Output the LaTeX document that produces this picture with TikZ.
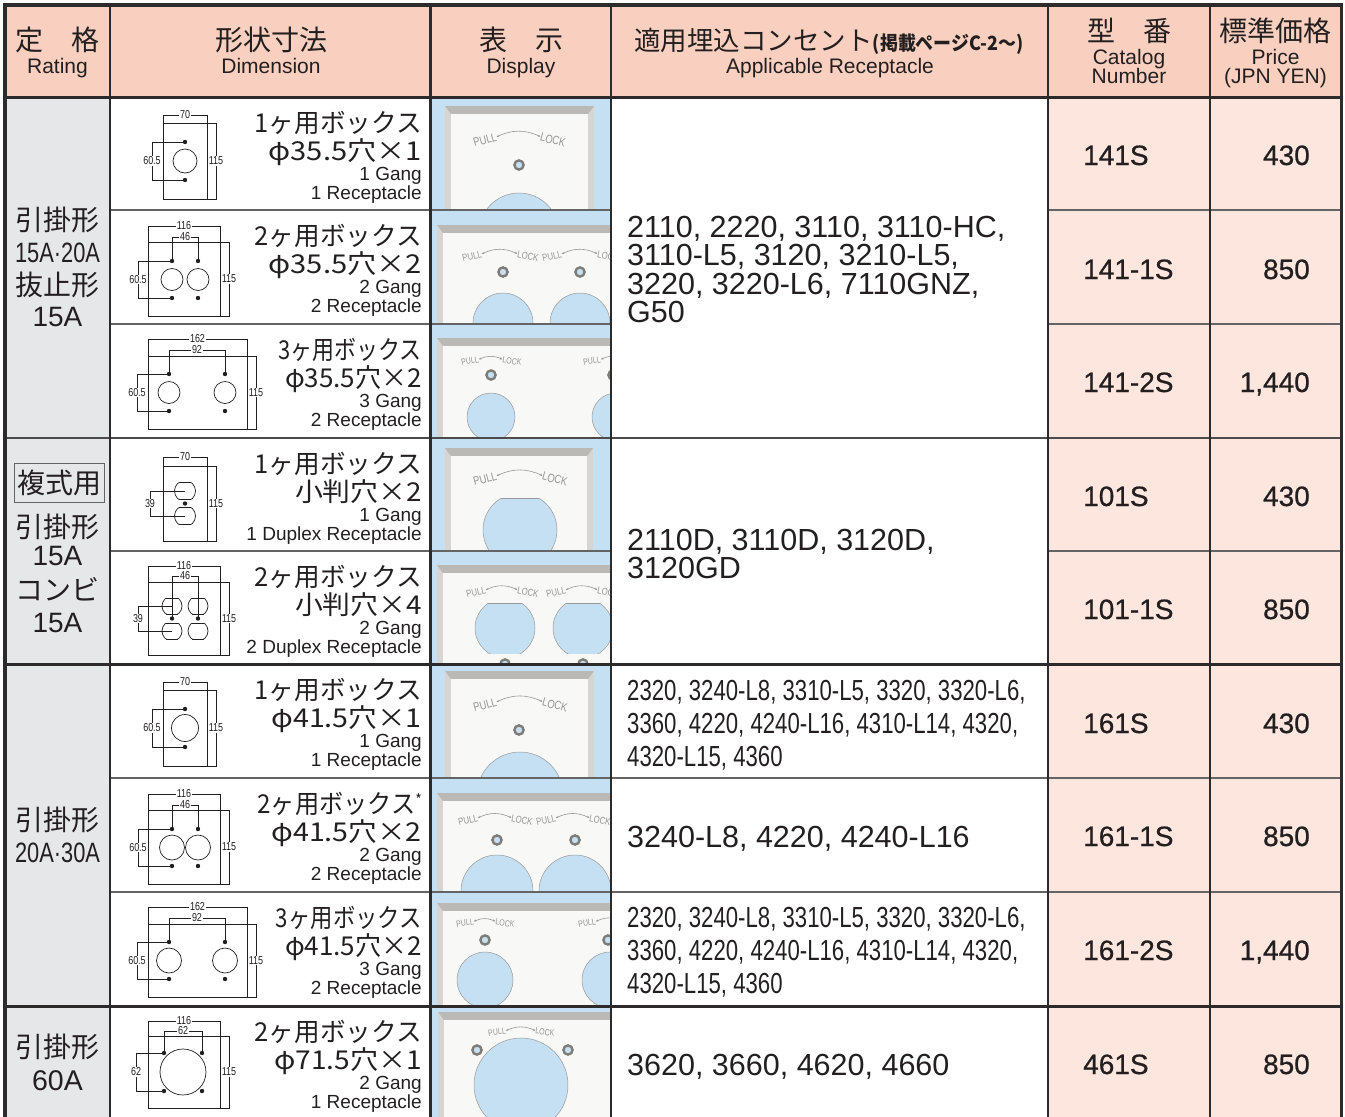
\documentclass[tikz,border=0pt]{standalone}
\usepackage{fontspec}
\usetikzlibrary{arrows.meta}
\setmainfont{Liberation Sans}
\newfontfamily\jp{Noto Sans CJK JP}
\newfontfamily\cond[FakeStretch=0.78]{Liberation Sans}
\newfontfamily\condr[FakeStretch=0.765]{Liberation Sans}
\newfontfamily\catf[FakeBold=0.7]{Liberation Sans}
\newcommand\fs[1]{\fontsize{#1}{#1}\selectfont}
\definecolor{hdrfill}{RGB}{249,208,191}
\definecolor{ratefill}{RGB}{230,231,233}
\definecolor{pinkfill}{RGB}{253,230,222}
\definecolor{dispblue}{RGB}{197,223,243}
\definecolor{gridc}{RGB}{45,42,43}
\definecolor{gridl}{RGB}{100,100,100}
\definecolor{bevelc}{RGB}{214,213,211}
\definecolor{beveltop}{RGB}{186,185,182}
\definecolor{facec}{RGB}{248,248,246}
\definecolor{engrc}{RGB}{150,150,150}
\definecolor{ink}{RGB}{35,31,32}
\definecolor{ringc}{RGB}{128,124,120}
\tikzset{
  txt/.style={inner sep=0pt, text=ink},
  hj/.style={txt, font=\jp\fs{28}, anchor=base},
  he/.style={txt, font=\fs{21}, anchor=base},
  jpbig/.style={txt, font=\jp\fs{26}, anchor=base east},
  ensm/.style={txt, font=\fs{19}, anchor=base east},
  rate/.style={txt, anchor=base},
  rec/.style={txt, font=\fs{30.5}, anchor=base west},
  recc/.style={txt, font=\condr\fs{29}, anchor=base west},
  cat/.style={txt, font=\catf\fs{28}, anchor=base west},
  price/.style={txt, font=\catf\fs{28}, anchor=base east},
  dimln/.style={line width=0.7pt, draw=ink},
  dimlab/.style={font=\cond\fs{11.5}, text=ink, fill=white, inner sep=0.8pt},
  engr/.style={inner sep=0pt, text=engrc},
  engrl/.style={draw=engrc, line width=0.6pt, {Stealth[length=2.5pt,width=2.2pt]}-{Stealth[length=2.5pt,width=2.2pt]}},
  engrs/.style={draw=engrc, line width=0.6pt, {Stealth[length=2.5pt,width=2.2pt]}-},
  hole/.style={fill=dispblue, draw=gray!80, line width=0.5pt},
  ring/.style={fill=dispblue, draw=ringc, line width=2.4pt},
  gthin/.style={draw=gridl, line width=1.4pt},
  gmid/.style={draw=gridc!85, line width=1.7pt},
  gthick/.style={draw=gridc, line width=3pt}
}
% dimension drawing helpers
\newcommand\platedim[8]{%
  \draw[dimln] (#2,#1+#5) -- (#3,#1+#5);
  \draw[dimln] (#2,#1+#5) -- (#2,#1+#7);
  \draw[dimln] (#3,#1+#5) -- (#3,#1+#7);
  \draw[dimln] (#2,#1+#6) -- (#3+9,#1+#6) -- (#3+9,#1+#7) -- (#2,#1+#7);
  \node[dimlab] (#8w) at ({(#2+#3)/2},#1+#5) {#4};
  \node[dimlab] (#8h) at (#3+9,{#1+(#6+#7)/2}) {115};
}
\newcommand\innerdim[7]{%
  \draw[dimln] (#2,#1+#5) -- (#2,#1+#4) -- (#3,#1+#4) -- (#3,#1+#5);
  \node[dimlab] (#7i) at ({(#2+#3)/2},#1+#4) {#6};
}
\newcommand\leftdim[7]{%
  \draw[dimln] (#3,#1+#4) -- (#2,#1+#4) -- (#2,#1+#5) -- (#3,#1+#5);
  \node[dimlab] (#7v) at (#2,{#1+(#4+#5)/2}) {#6};
}
\newcommand\scr[2]{\fill[ink] (#1,#2) circle (2.2);}
\newcommand\duplexd[4]{%
  \begin{scope}
    \clip (#1-#3-1,#2-#4) rectangle (#1+#3+1,#2+#4);
    \draw[dimln] (#1,#2) circle (#3);
  \end{scope}
  \draw[dimln] ({#1-sqrt(#3*#3-#4*#4)},#2-#4) -- ({#1+sqrt(#3*#3-#4*#4)},#2-#4);
  \draw[dimln] ({#1-sqrt(#3*#3-#4*#4)},#2+#4) -- ({#1+sqrt(#3*#3-#4*#4)},#2+#4);
}
\newcommand\dimone[3]{%
  \platedim{#1}{163}{207}{70}{18}{26}{102}{#2}%
  \leftdim{#1}{152}{185}{45}{83}{60.5}{#2}%
  \scr{185}{#1+45}\scr{185}{#1+83}%
  \draw[dimln] (185,#1+64) circle (#3);
}
\newcommand\dimtwo[3]{%
  \platedim{#1}{148}{220}{116}{16}{32}{106}{#2}%
  \innerdim{#1}{172}{198}{27}{51}{46}{#2}%
  \leftdim{#1}{138}{172}{51}{88}{60.5}{#2}%
  \scr{172}{#1+51}\scr{198}{#1+51}\scr{172}{#1+88}\scr{198}{#1+88}%
  \draw[dimln] (172,#1+69.5) circle (#3);
  \draw[dimln] (198,#1+69.5) circle (#3);
}
\newcommand\dimthree[3]{%
  \platedim{#1}{148}{247}{162}{15}{32}{105}{#2}%
  \innerdim{#1}{169}{225}{26}{50}{92}{#2}%
  \leftdim{#1}{137}{169}{50}{87}{60.5}{#2}%
  \scr{169}{#1+50}\scr{225}{#1+50}\scr{169}{#1+87}\scr{225}{#1+87}%
  \draw[dimln] (169,#1+68.5) circle (#3);
  \draw[dimln] (225,#1+68.5) circle (#3);
}
% t, name, scale1, line1, scale2, line2, line3, line4
\newcommand\dtext[8]{%
  \node[jpbig] (#2a) at (422,#1+35) {\scalebox{#3}[1]{#4}};
  \node[jpbig] (#2b) at (422,#1+63.5) {\scalebox{#5}[1]{#6}};
  \node[ensm] (#2c) at (422,#1+83.5) {#7};
  \node[ensm] (#2d) at (422,#1+102.5) {#8};
}
% display helpers
\newcommand\plate[4]{%
  \fill[bevelc] (#1,#2) rectangle (#3,#4);
  \fill[beveltop] (#1,#2) -- (#3,#2) -- (#3-6,#2+8) -- (#1+6,#2+8) -- cycle;
  \fill[facec] (#1+6,#2+8) rectangle (#3-6,#4);
}
\newcommand\sring[2]{\filldraw[ring] (#1,#2) circle (4.6);}
\newcommand\bhole[3]{\filldraw[hole] (#1,#2) circle (#3);}
\newcommand\dhole[4]{%
  \begin{scope}
    \clip (#1-#3-1,#2-#4) rectangle (#1+#3+1,#2+#4);
    \filldraw[hole] (#1,#2) circle (#3);
  \end{scope}
  \draw[gray!80, line width=0.5pt] ({#1-sqrt(#3*#3-#4*#4)},#2-#4) -- ({#1+sqrt(#3*#3-#4*#4)},#2-#4);
}
\newcommand\pl[6]{%
  \node[engr, font=\cond\fs{#4}, rotate=#5] (#6p) at (#1-#3,#2) {PULL};
  \node[engr, font=\cond\fs{#4}, rotate=-#5] (#6l) at (#1+#3,#2) {LOCK};
  \draw[engrl] (#6p.east) to[bend left=25] (#6l.west);
}
% only PULL visible at the right edge of a cell
\newcommand\plpull[5]{%
  \node[engr, font=\cond\fs{#3}, rotate=#4] (#5p) at (#1,#2) {PULL};
  \coordinate (#5e) at (#1+28,#2-5);
  \draw[engrs] (#5p.east) to[bend left=15] (#5e);
}
\begin{document}
\begin{tikzpicture}[x=1pt,y=-1pt]
\useasboundingbox (0,0) rectangle (1345,1117);
\fill[white] (0,0) rectangle (1345,1117);
\fill[hdrfill] (5,5) rectangle (1341,97);
\fill[ratefill] (5,97) rectangle (110,1117);
\fill[pinkfill] (1048,97) rectangle (1341,1117);

% ---------- display column ----------
\begin{scope}
  \clip (430,97) rectangle (611,210);
  \fill[dispblue] (430,97) rectangle (611,210);
  \plate{445}{106}{594}{240}
  \sring{519}{165}
  \bhole{519}{233}{40}
  \pl{519}{140}{34}{12}{15}{p1}
\end{scope}
\begin{scope}
  \clip (430,210) rectangle (611,324);
  \fill[dispblue] (430,210) rectangle (611,324);
  \plate{437}{225}{700}{340}
  \sring{503}{272}\sring{580}{272}
  \bhole{503}{323}{30}\bhole{580}{323}{30}
  \pl{500}{256}{28}{10}{12}{p2a}
  \pl{580}{256}{28}{10}{12}{p2b}
\end{scope}
\begin{scope}
  \clip (430,324) rectangle (611,438);
  \fill[dispblue] (430,324) rectangle (611,438);
  \plate{437}{338}{700}{450}
  \sring{491}{375}\sring{613}{375}
  \bhole{491}{417}{24}\bhole{616}{417}{24}
  \pl{491}{361}{21}{9}{10}{p3a}
  \plpull{592}{361}{9}{10}{p3b}
\end{scope}
\begin{scope}
  \clip (430,438) rectangle (611,551);
  \fill[dispblue] (430,438) rectangle (611,551);
  \plate{445}{448}{593}{560}
  \dhole{520}{530}{37}{32}
  \pl{520}{479}{35}{12}{15}{p4}
\end{scope}
\begin{scope}
  \clip (430,551) rectangle (611,664);
  \fill[dispblue] (430,551) rectangle (611,664);
  \plate{437}{565}{700}{680}
  \dhole{505}{628}{30}{25}\dhole{583}{628}{30}{25}
  \sring{505}{664}\sring{583}{664}
  \pl{502}{592}{26}{10}{12}{p5a}
  \pl{582}{592}{26}{10}{12}{p5b}
\end{scope}
\begin{scope}
  \clip (430,664) rectangle (611,778);
  \fill[dispblue] (430,664) rectangle (611,778);
  \plate{445}{671}{594}{790}
  \sring{519}{730}
  \bhole{520}{795}{43}
  \pl{520}{705}{35}{12}{15}{p6}
\end{scope}
\begin{scope}
  \clip (430,778) rectangle (611,892);
  \fill[dispblue] (430,778) rectangle (611,892);
  \plate{437}{793}{700}{900}
  \sring{497}{840}\sring{575}{840}
  \bhole{497}{891}{36}\bhole{575}{891}{36}
  \pl{495}{820}{27}{10}{12}{p7a}
  \pl{573}{820}{27}{10}{12}{p7b}
\end{scope}
\begin{scope}
  \clip (430,892) rectangle (611,1006);
  \fill[dispblue] (430,892) rectangle (611,1006);
  \plate{437}{903}{700}{1010}
  \sring{485}{940}\sring{608}{940}
  \bhole{485}{980}{28}\bhole{610}{980}{28}
  \pl{485}{923}{20}{9}{10}{p8a}
  \plpull{587}{923}{9}{10}{p8b}
\end{scope}
\begin{scope}
  \clip (430,1006) rectangle (611,1117);
  \fill[dispblue] (430,1006) rectangle (611,1117);
  \plate{438}{1012}{700}{1120}
  \sring{477}{1050}\sring{568}{1050}
  \bhole{521}{1085}{47}
  \pl{521}{1032}{24}{9}{8}{p9}
\end{scope}

% ---------- dimension drawings ----------
\dimone{97}{r1}{12}
\dimtwo{210}{r2}{11}
\dimthree{324}{r3}{11}
% row 4 duplex 1 gang
\platedim{438}{163}{207}{70}{19}{28}{103}{r4}
\leftdim{438}{150}{185}{53}{78}{39}{r4}
\duplexd{185}{491}{10.5}{8.5}
\duplexd{185}{516}{10.5}{8.5}
\scr{185}{503.5}
% row 5 duplex 2 gang
\platedim{551}{148}{220}{116}{15}{31}{104}{r5}
\duplexd{172}{606}{10}{8}\duplexd{198}{606}{10}{8}
\duplexd{172}{631}{10}{8}\duplexd{198}{631}{10}{8}
\innerdim{551}{172}{198}{25}{67.5}{46}{r5}
\leftdim{551}{138}{172}{55}{80}{39}{r5}
\scr{172}{618.5}\scr{198}{618.5}
\dimone{664}{r6}{13.5}
\dimtwo{778}{r7}{12.5}
\dimthree{892}{r8}{12.5}
% row 9
\platedim{1006}{148}{220}{116}{15}{30}{102}{r9}
\innerdim{1006}{164}{202}{25}{47}{62}{r9}
\leftdim{1006}{136}{164}{47}{85}{62}{r9}
\scr{164}{1053}\scr{202}{1053}\scr{164}{1091}\scr{202}{1091}
\draw[dimln] (183,1072) circle (23);

% ---------- dimension texts ----------
\dtext{97}{t1}{0.985}{1ヶ用ボックス}{1.12}{φ35.5穴×1}{1 Gang}{1 Receptacle}
\dtext{210}{t2}{0.985}{2ヶ用ボックス}{1.12}{φ35.5穴×2}{2 Gang}{2 Receptacle}
\dtext{324}{t3}{0.845}{3ヶ用ボックス}{1.0}{φ35.5穴×2}{3 Gang}{2 Receptacle}
\dtext{438}{t4}{0.985}{1ヶ用ボックス}{1.07}{小判穴×2}{1 Gang}{1 Duplex Receptacle}
\dtext{551}{t5}{0.985}{2ヶ用ボックス}{1.07}{小判穴×4}{2 Gang}{2 Duplex Receptacle}
\dtext{664}{t6}{0.985}{1ヶ用ボックス}{1.1}{φ41.5穴×1}{1 Gang}{1 Receptacle}
\dtext{778}{t7}{0.93}{2ヶ用ボックス\raisebox{8pt}{\fs{15}*}}{1.1}{φ41.5穴×2}{2 Gang}{2 Receptacle}
\dtext{892}{t8}{0.86}{3ヶ用ボックス}{1.0}{φ41.5穴×2}{3 Gang}{2 Receptacle}
\dtext{1006}{t9}{0.985}{2ヶ用ボックス}{1.08}{φ71.5穴×1}{2 Gang}{1 Receptacle}

% ---------- rating column ----------
\node[rate, font=\jp\fs{28}] (g1a) at (57.5,230.6) {引掛形};
\node[rate, font=\cond\fs{28}] (g1b) at (57.5,262) {15A·20A};
\node[rate, font=\jp\fs{28}] (g1c) at (57.5,295.6) {抜止形};
\node[rate, font=\fs{28}] (g1d) at (57.5,326) {15A};
\node[font=\jp\fs{28}, text=ink, draw=gridl, line width=0.9pt, minimum width=90pt, minimum height=39pt, inner sep=0pt] (g2a) at (59,482.5) {複式用};
\node[rate, font=\jp\fs{28}] (g2b) at (57.5,537.6) {引掛形};
\node[rate, font=\fs{28}] (g2c) at (57.5,565) {15A};
\node[rate, font=\jp\fs{28}] (g2d) at (57.5,600.6) {コンビ};
\node[rate, font=\fs{28}] (g2e) at (57.5,632) {15A};
\node[rate, font=\jp\fs{28}] (g3a) at (57.5,830.6) {引掛形};
\node[rate, font=\cond\fs{28}] (g3b) at (57.5,862) {20A·30A};
\node[rate, font=\jp\fs{28}] (g4a) at (57.5,1057.6) {引掛形};
\node[rate, font=\fs{28.5}] (g4b) at (57.5,1090) {60A};

% ---------- header ----------
\node[hj] (h1) at (57.5,50.6) {定　格};
\node[he] (h1e) at (57.5,73.5) {Rating};
\node[hj] (h2) at (271,50.6) {形状寸法};
\node[he] (h2e) at (271,73.5) {Dimension};
\node[hj] (h3) at (521,50.6) {表　示};
\node[he] (h3e) at (521,73.5) {Display};
\node[txt, anchor=base] (h4) at (829,50.6) {\jp\fs{26.5}適用埋込コンセント{\fs{19.5}\bfseries\scalebox{0.92}[1]{(掲載ページC-2〜)}}};
\node[he] (h4e) at (830,73.5) {Applicable Receptacle};
\node[hj] (h5) at (1129,41.6) {型　番};
\node[he] (h5e) at (1129,64.5) {Catalog};
\node[he] (h5f) at (1129,83.5) {Number};
\node[hj] (h6) at (1275.5,41.6) {標準価格};
\node[he] (h6e) at (1275.5,64.5) {Price};
\node[he] (h6f) at (1275.5,83.5) {(JPN YEN)};

% ---------- applicable receptacle ----------
\node[rec] (ra1) at (627,237) {2110, 2220, 3110, 3110-HC,};
\node[rec] (ra2) at (627,265.5) {3110-L5, 3120, 3210-L5,};
\node[rec] (ra3) at (627,294) {3220, 3220-L6, 7110GNZ,};
\node[rec] (ra4) at (627,322.5) {G50};
\node[rec] (rb1) at (627,550) {2110D, 3110D, 3120D,};
\node[rec] (rb2) at (627,578) {3120GD};
\node[recc] (rc1) at (627,700.5) {2320, 3240-L8, 3310-L5, 3320, 3320-L6,};
\node[recc] (rc2) at (627,733.5) {3360, 4220, 4240-L16, 4310-L14, 4320,};
\node[recc] (rc3) at (627,766.5) {4320-L15, 4360};
\node[rec] (rd1) at (627,847) {3240-L8, 4220, 4240-L16};
\node[recc] (re1) at (627,927.5) {2320, 3240-L8, 3310-L5, 3320, 3320-L6,};
\node[recc] (re2) at (627,960.5) {3360, 4220, 4240-L16, 4310-L14, 4320,};
\node[recc] (re3) at (627,993.5) {4320-L15, 4360};
\node[rec] (rf1) at (627,1075) {3620, 3660, 4620, 4660};

% ---------- catalog and price ----------
\node[cat] (c1) at (1083,165) {141S};
\node[cat] (c2) at (1083,279) {141-1S};
\node[cat] (c3) at (1083,392) {141-2S};
\node[cat] (c4) at (1083,506) {101S};
\node[cat] (c5) at (1083,619) {101-1S};
\node[cat] (c6) at (1083,733) {161S};
\node[cat] (c7) at (1083,846) {161-1S};
\node[cat] (c8) at (1083,960) {161-2S};
\node[cat] (c9) at (1083,1074) {461S};
\node[price] (q1) at (1310,165) {430};
\node[price] (q2) at (1310,279) {850};
\node[price] (q3) at (1310,392) {1,440};
\node[price] (q4) at (1310,506) {430};
\node[price] (q5) at (1310,619) {850};
\node[price] (q6) at (1310,733) {430};
\node[price] (q7) at (1310,846) {850};
\node[price] (q8) at (1310,960) {1,440};
\node[price] (q9) at (1310,1074) {850};

% ---------- grid ----------
\foreach \yy in {210,324,551} {
  \draw[gthin] (110,\yy) -- (611,\yy);
  \draw[gthin] (1048,\yy) -- (1341,\yy);
}
\foreach \yy in {778,892} { \draw[gthin] (110,\yy) -- (1341,\yy); }
\draw[gmid] (5,438) -- (1341,438);
\draw[gthick] (5,664) -- (1341,664);
\draw[gthick] (5,1006) -- (1341,1006);
\draw[draw=gridc, line width=2.2pt] (110,5) -- (110,1117);
\draw[draw=gridc, line width=3pt] (430,5) -- (430,1117);
\draw[draw=gridc, line width=2.2pt] (611,5) -- (611,1117);
\draw[draw=gridc, line width=1.6pt] (1048,5) -- (1048,1117);
\draw[draw=gridc, line width=2pt] (1210,5) -- (1210,1117);
\draw[draw=gridc, line width=3pt] (5,97) -- (1341,97);
\draw[draw=gridc, line width=3.5pt] (3,5) -- (1343,5);
\draw[draw=gridc, line width=4pt] (5,3) -- (5,1117);
\draw[draw=gridc, line width=3pt] (1341,3) -- (1341,1117);
\end{tikzpicture}
\end{document}
